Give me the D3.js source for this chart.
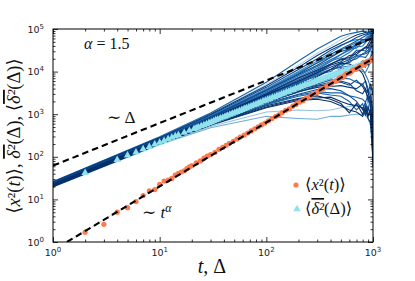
<!DOCTYPE html>
<html><head><meta charset="utf-8">
<script src="https://cdn.jsdelivr.net/npm/d3@7"></script>
<style>body{margin:0;background:#fff;} svg{display:block;}</style>
</head><body><svg id="c" width="415" height="281"></svg>
<script>
// ---------------- data ----------------
const tamsdKnots = [1,10,30,100,200,300,400,500,600,700,800,850,900,950,1000];
// log10 of individual time-averaged MSD curves at the knots above
const tamsdLog10 = [
 [1.42,2.47,3.03,3.75,4.25,4.53,4.70,4.83,4.89,4.92,4.95,4.94,4.92,4.92,4.95],
 [1.41,2.45,3.00,3.67,4.10,4.38,4.55,4.67,4.78,4.86,4.90,4.92,4.93,4.96,4.97],
 [1.40,2.43,2.96,3.60,4.00,4.25,4.45,4.60,4.71,4.75,4.75,4.76,4.82,4.87,4.95],
 [1.38,2.41,2.93,3.55,3.93,4.15,4.33,4.47,4.53,4.65,4.75,4.75,4.74,4.82,4.90],
 [1.37,2.40,2.91,3.50,3.87,4.08,4.25,4.33,4.45,4.58,4.60,4.68,4.75,4.74,4.85],
 [1.36,2.38,2.88,3.45,3.77,3.98,4.15,4.23,4.38,4.40,4.53,4.58,4.55,4.67,4.80],
 [1.35,2.37,2.86,3.40,3.73,3.93,4.00,4.17,4.21,4.35,4.35,4.33,4.42,4.52,4.65],
 [1.34,2.35,2.85,3.38,3.70,3.83,3.90,4.07,4.08,4.10,4.25,4.23,4.15,4.32,4.45],
 [1.33,2.34,2.81,3.32,3.60,3.75,3.83,3.95,3.93,4.05,4.00,3.98,4.10,4.22,4.55],
 [1.32,2.33,2.79,3.27,3.53,3.63,3.65,3.67,3.63,3.60,3.70,3.58,3.50,3.72,3.45],
 [1.31,2.32,2.77,3.23,3.45,3.53,3.50,3.50,3.43,3.40,3.35,3.28,3.45,3.12,2.55],
 [1.30,2.31,2.75,3.17,3.35,3.38,3.40,3.30,3.23,3.20,3.15,2.98,3.15,2.97,2.05],
 [1.30,2.30,2.71,3.05,3.10,3.08,3.10,3.15,3.18,3.20,3.20,3.18,3.30,3.12,2.85],
 [1.29,2.29,2.68,2.95,2.90,2.88,2.95,2.95,2.98,3.00,3.00,2.98,2.90,2.72,1.95],
 [1.31,2.32,2.76,3.20,3.37,3.43,3.35,3.25,3.03,3.25,3.00,3.18,2.95,3.12,1.75],
 [1.33,2.33,2.78,3.25,3.47,3.58,3.60,3.55,3.43,3.30,3.10,3.28,3.00,3.07,2.35],
 [1.36,2.37,2.87,3.43,3.75,3.95,4.05,4.10,4.13,4.10,4.05,3.93,3.80,3.62,2.75],
 [1.32,2.34,2.81,3.30,3.57,3.68,3.75,3.75,3.68,3.80,3.65,3.53,3.40,3.22,2.45],
 [1.39,2.42,2.94,3.57,3.95,4.21,4.40,4.53,4.63,4.72,4.80,4.84,4.88,4.89,4.95],
 [1.37,2.39,2.90,3.47,3.83,4.05,4.23,4.40,4.53,4.55,4.70,4.78,4.85,4.92,4.97],
 [1.41,2.45,3.01,3.70,4.15,4.43,4.60,4.75,4.85,4.93,4.95,4.96,4.97,4.98,5.00],
 [1.34,2.36,2.83,3.37,3.63,3.88,4.05,4.20,4.18,4.10,3.95,3.78,3.50,3.32,2.15],
 [1.32,2.33,2.80,3.29,3.55,3.71,3.80,3.85,3.83,3.75,3.70,3.78,3.60,3.42,3.05],
 [1.38,2.38,2.89,3.45,3.80,4.01,4.17,4.30,4.33,4.50,4.50,4.48,4.60,4.67,4.75],
 [1.39,2.44,2.98,3.63,4.05,4.30,4.50,4.62,4.70,4.80,4.86,4.88,4.90,4.93,4.96],
 [1.37,2.40,2.92,3.52,3.90,4.12,4.28,4.40,4.50,4.62,4.68,4.70,4.80,4.85,4.92],
 [1.36,2.39,2.90,3.48,3.85,4.03,4.18,4.28,4.30,4.45,4.52,4.55,4.65,4.75,4.88],
 [1.35,2.36,2.86,3.41,3.72,3.90,4.05,4.12,4.25,4.30,4.42,4.45,4.50,4.60,4.70],
 [1.34,2.34,2.82,3.34,3.62,3.80,3.88,3.98,4.05,4.02,4.15,4.10,4.25,4.35,4.60],
 [1.33,2.33,2.80,3.28,3.52,3.66,3.70,3.78,3.72,3.55,3.48,3.60,3.30,3.45,2.90],
 [1.32,2.31,2.76,3.22,3.42,3.50,3.45,3.42,3.30,3.10,3.25,3.05,3.20,2.95,2.25],
 [1.31,2.30,2.74,3.15,3.32,3.35,3.30,3.20,3.10,3.05,2.95,3.10,2.90,2.80,2.00],
 [1.38,2.42,2.95,3.58,3.98,4.20,4.35,4.50,4.60,4.68,4.72,4.70,4.78,4.86,4.94],
 [1.36,2.38,2.88,3.44,3.78,3.97,4.10,4.20,4.28,4.38,4.40,4.42,4.45,4.55,4.82]
];
// ensemble-averaged TAMSD (triangles)
const triDelta = [2,4,5,6,7,8,9,10,11,12,13,14,15,17,19,21,22,23,24.5,26,27.5,29,30.5,32,33.5,35,37,39,41,43,45.5,48,50.5,53,56,59,62,65,68.5,72,76,80,84,88,93,98,103,108,114,120,126,132,139,146,154,162,170,179,188,198,208,219,230,242,255,268,282,296,311,327,344,362,380,400,420,442,465,489,515,541,570,598,630,661,695,730,765,800];
const triValue = [42,85,108,128,152,172,196,215,238,262,282,305,326,368,410,455,475,500,530,560,590,625,655,690,725,760,800,840,880,925,980,1030,1085,1140,1200,1270,1335,1390,1470,1540,1630,1710,1800,1880,1995,2080,2210,2300,2445,2540,2700,2790,2980,3080,3290,3400,3620,3750,3990,4130,4380,4550,4820,5000,5300,5500,5800,6050,6380,6650,7000,7300,7700,8000,8450,8750,9250,9600,10200,10500,11000,11400,12000,12400,13000,13500,14000,14600];
// ensemble MSD (dots)
const emsdT = [2,3,4,5,6,7,8,9,10,11,12,13,14,15,16,17,18,19,20,22,24,26,28,30,33,36,39,42,45,49,53,57,62,67,72,78,84,90,97,105,113,122,131,141,152,164,177,190,205,221,238,256,276,297,320,345,371,400,410,430,445,463,480,499,518,537,557,578,600,622,646,670,695,721,748,776,805,836,868,900,935,969,1000];
const emsdValue = [1.7,2.6,5.0,6.4,8.9,12.3,15.8,17,22.5,27,28.5,31,37,41,44,47,53,58,62,72,80,93,104,113,128,150,166,186,207,232,262,290,325,362,405,455,505,560,622,700,790,880,960,1090,1230,1330,1540,1700,1930,2080,2420,2600,3010,3230,3750,4050,4680,5050,5450,5850,5850,6300,6950,7300,7300,7850,8700,9100,9150,9800,10850,11350,11400,12200,13500,14100,14200,15200,16900,17600,17800,19000,20500];
// guide lines
const guideLinearX = [1,1000];
const guideLinearY = [62,62000];
const guideAlphaX = [1.35,1000];
const guideAlphaY = [1,20300];
const xMajor = [1,10,100,1000];
const yMajor = [1,10,100,1000,10000,100000];

// ---------------- drawing ----------------
const svg = d3.select("#c");
const L = 53, R = 373, T = 29, B = 242;
const x = d3.scaleLog().domain([1,1000]).range([L,R]);
const y = d3.scaleLog().domain([1,1e5]).range([B,T]);

svg.append("defs").append("clipPath").attr("id","clip")
  .append("rect").attr("x",L).attr("y",T).attr("width",R-L).attr("height",B-T);
const plot = svg.append("g").attr("clip-path","url(#clip)");

const shades = [0.8,0.95,0.65,0.9,0.75,1.0,0.85,1.0,0.7,0.95,0.8,1.0,0.4,0.5,1.0,0.9,0.75,0.95,0.85,0.7,0.3,1.0,0.8,0.9,0.9,0.8,1.0,0.85,0.7,0.95,0.8,1.0,0.7,0.9];
const lineGen = d3.line().x(d=>x(d[0])).y(d=>y(d[1]));
const order = d3.range(tamsdLog10.length).sort((a,b)=>shades[a]-shades[b]);
order.forEach(i=>{
  const pts = tamsdKnots.map((k,j)=>[k, Math.pow(10, tamsdLog10[i][j])]);
  plot.append("path").attr("d", lineGen(pts)).attr("fill","none")
    .attr("stroke", d3.interpolateBlues(shades[i])).attr("stroke-width",1.1);
});

// triangles
const tri = d3.symbol().type(d3.symbolTriangle).size(24);
plot.selectAll(".tri").data(triDelta.map((d,i)=>[d,triValue[i]])).enter()
  .append("path").attr("d",tri).attr("transform",d=>`translate(${x(d[0])},${y(d[1])})`)
  .attr("fill","#8fe1ec");

// thin gray fit line under alpha guide
const gA = guideAlphaX.map((d,i)=>[d,guideAlphaY[i]]);
const gL = guideLinearX.map((d,i)=>[d,guideLinearY[i]]);
plot.append("path").attr("d",lineGen(gA)).attr("stroke","#c8c8c8").attr("stroke-width",0.8).attr("fill","none");

// EMSD dots
plot.selectAll(".dot").data(emsdT.map((d,i)=>[d,emsdValue[i]])).enter()
  .append("circle").attr("cx",d=>x(d[0])).attr("cy",d=>y(d[1])).attr("r",2.6).attr("fill","#fb7b4f");

// dashed guides
[gA,gL].forEach(g=>{
  plot.append("path").attr("d",lineGen(g)).attr("stroke","#000").attr("stroke-width",2.1)
    .attr("stroke-dasharray","6.5,4").attr("fill","none");
});

// axes
function minors(lo,hi){const m=[];for(let d=lo;d<hi;d*=10)for(let k=2;k<=9;k++)m.push(d*k);return m;}
const mx = minors(1,1000), my = minors(1,1e5);
function addAxis(gen, scale, tr, vals, size){
  const g = svg.append("g").attr("transform",tr)
    .call(gen(scale).tickValues(vals).tickSize(-size).tickSizeOuter(0).tickFormat(""));
  g.select(".domain").remove();
  g.selectAll("line").attr("stroke","#000").attr("stroke-width",0.8);
  return g;
}
addAxis(d3.axisBottom,x,`translate(0,${B})`,xMajor,5);
addAxis(d3.axisBottom,x,`translate(0,${B})`,mx,2.5);
addAxis(d3.axisTop,x,`translate(0,${T})`,xMajor,5);
addAxis(d3.axisTop,x,`translate(0,${T})`,mx,2.5);
addAxis(d3.axisLeft,y,`translate(${L},0)`,yMajor,5);
addAxis(d3.axisLeft,y,`translate(${L},0)`,my,2.5);
addAxis(d3.axisRight,y,`translate(${R},0)`,yMajor,5);
addAxis(d3.axisRight,y,`translate(${R},0)`,my,2.5);
svg.append("rect").attr("x",L).attr("y",T).attr("width",R-L).attr("height",B-T)
  .attr("fill","none").attr("stroke","#000").attr("stroke-width",1);

const tickFont = "DejaVu Sans, sans-serif";
xMajor.forEach(v=>{
  const t = svg.append("text").attr("x",x(v)).attr("y",B+14).attr("text-anchor","middle")
    .attr("font-family",tickFont).attr("font-size",9.5).attr("fill","#222");
  t.append("tspan").text("10");
  t.append("tspan").attr("dy",-4).attr("font-size",7).text(Math.round(Math.log10(v)));
});
yMajor.forEach(v=>{
  const t = svg.append("text").attr("x",L-9).attr("y",y(v)+3.5).attr("text-anchor","end")
    .attr("font-family",tickFont).attr("font-size",9.5).attr("fill","#222");
  t.append("tspan").text("10");
  t.append("tspan").attr("dy",-4).attr("font-size",7).text(Math.round(Math.log10(v)));
});

// math text helper
const serif = "Liberation Serif, DejaVu Serif, serif";
function math(parent, parts){
  parts.forEach(p=>{
    const s = parent.append("tspan").text(p[0]);
    const f = p[1]||"";
    if(f.includes("i")) s.attr("font-style","italic");
    if(f.includes("o")) s.style("text-decoration","overline");
    if(f.includes("u")) s.attr("dy",-6).attr("font-size","70%");
  });
}
const a = svg.append("text").attr("x",84).attr("y",49).attr("font-family",serif).attr("font-size",16).attr("fill","#111");
math(a,[["α","i"],[" = 1.5"]]);
const lin = svg.append("text").attr("x",107).attr("y",123).attr("font-family",serif).attr("font-size",17).attr("fill","#111");
math(lin,[["∼ Δ"]]);
const ta = svg.append("text").attr("x",142).attr("y",218).attr("font-family",serif).attr("font-size",17).attr("fill","#111");
math(ta,[["∼ "],["t","i"],["α","iu"]]);

// axis titles
const xl = svg.append("text").attr("x",212).attr("y",273).attr("text-anchor","middle")
  .attr("font-family",serif).attr("font-size",20).attr("fill","#111");
math(xl,[["t","i"],[",  Δ"]]);
const yl = svg.append("text").attr("transform","translate(20,136) rotate(-90)").attr("text-anchor","middle")
  .attr("font-family",serif).attr("font-size",18.5).attr("fill","#111");
math(yl,[["⟨"],["x","i"],["²"],["("],["t","i"],[")⟩, "],["δ²","io"],["(Δ), ⟨"],["δ²","io"],["(Δ)⟩"]]);

// legend
svg.append("circle").attr("cx",296).attr("cy",185).attr("r",2.6).attr("fill","#fb7b4f");
svg.append("path").attr("d",tri).attr("transform","translate(297,209)").attr("fill","#8fe1ec");
const l1 = svg.append("text").attr("x",305).attr("y",190).attr("font-family",serif).attr("font-size",16.5).attr("fill","#111");
math(l1,[["⟨"],["x","i"],["²"],["("],["t","i"],[")⟩"]]);
const l2 = svg.append("text").attr("x",305).attr("y",214).attr("font-family",serif).attr("font-size",16.5).attr("fill","#111");
math(l2,[["⟨"],["δ²","io"],["(Δ)⟩"]]);
</script></body></html>
